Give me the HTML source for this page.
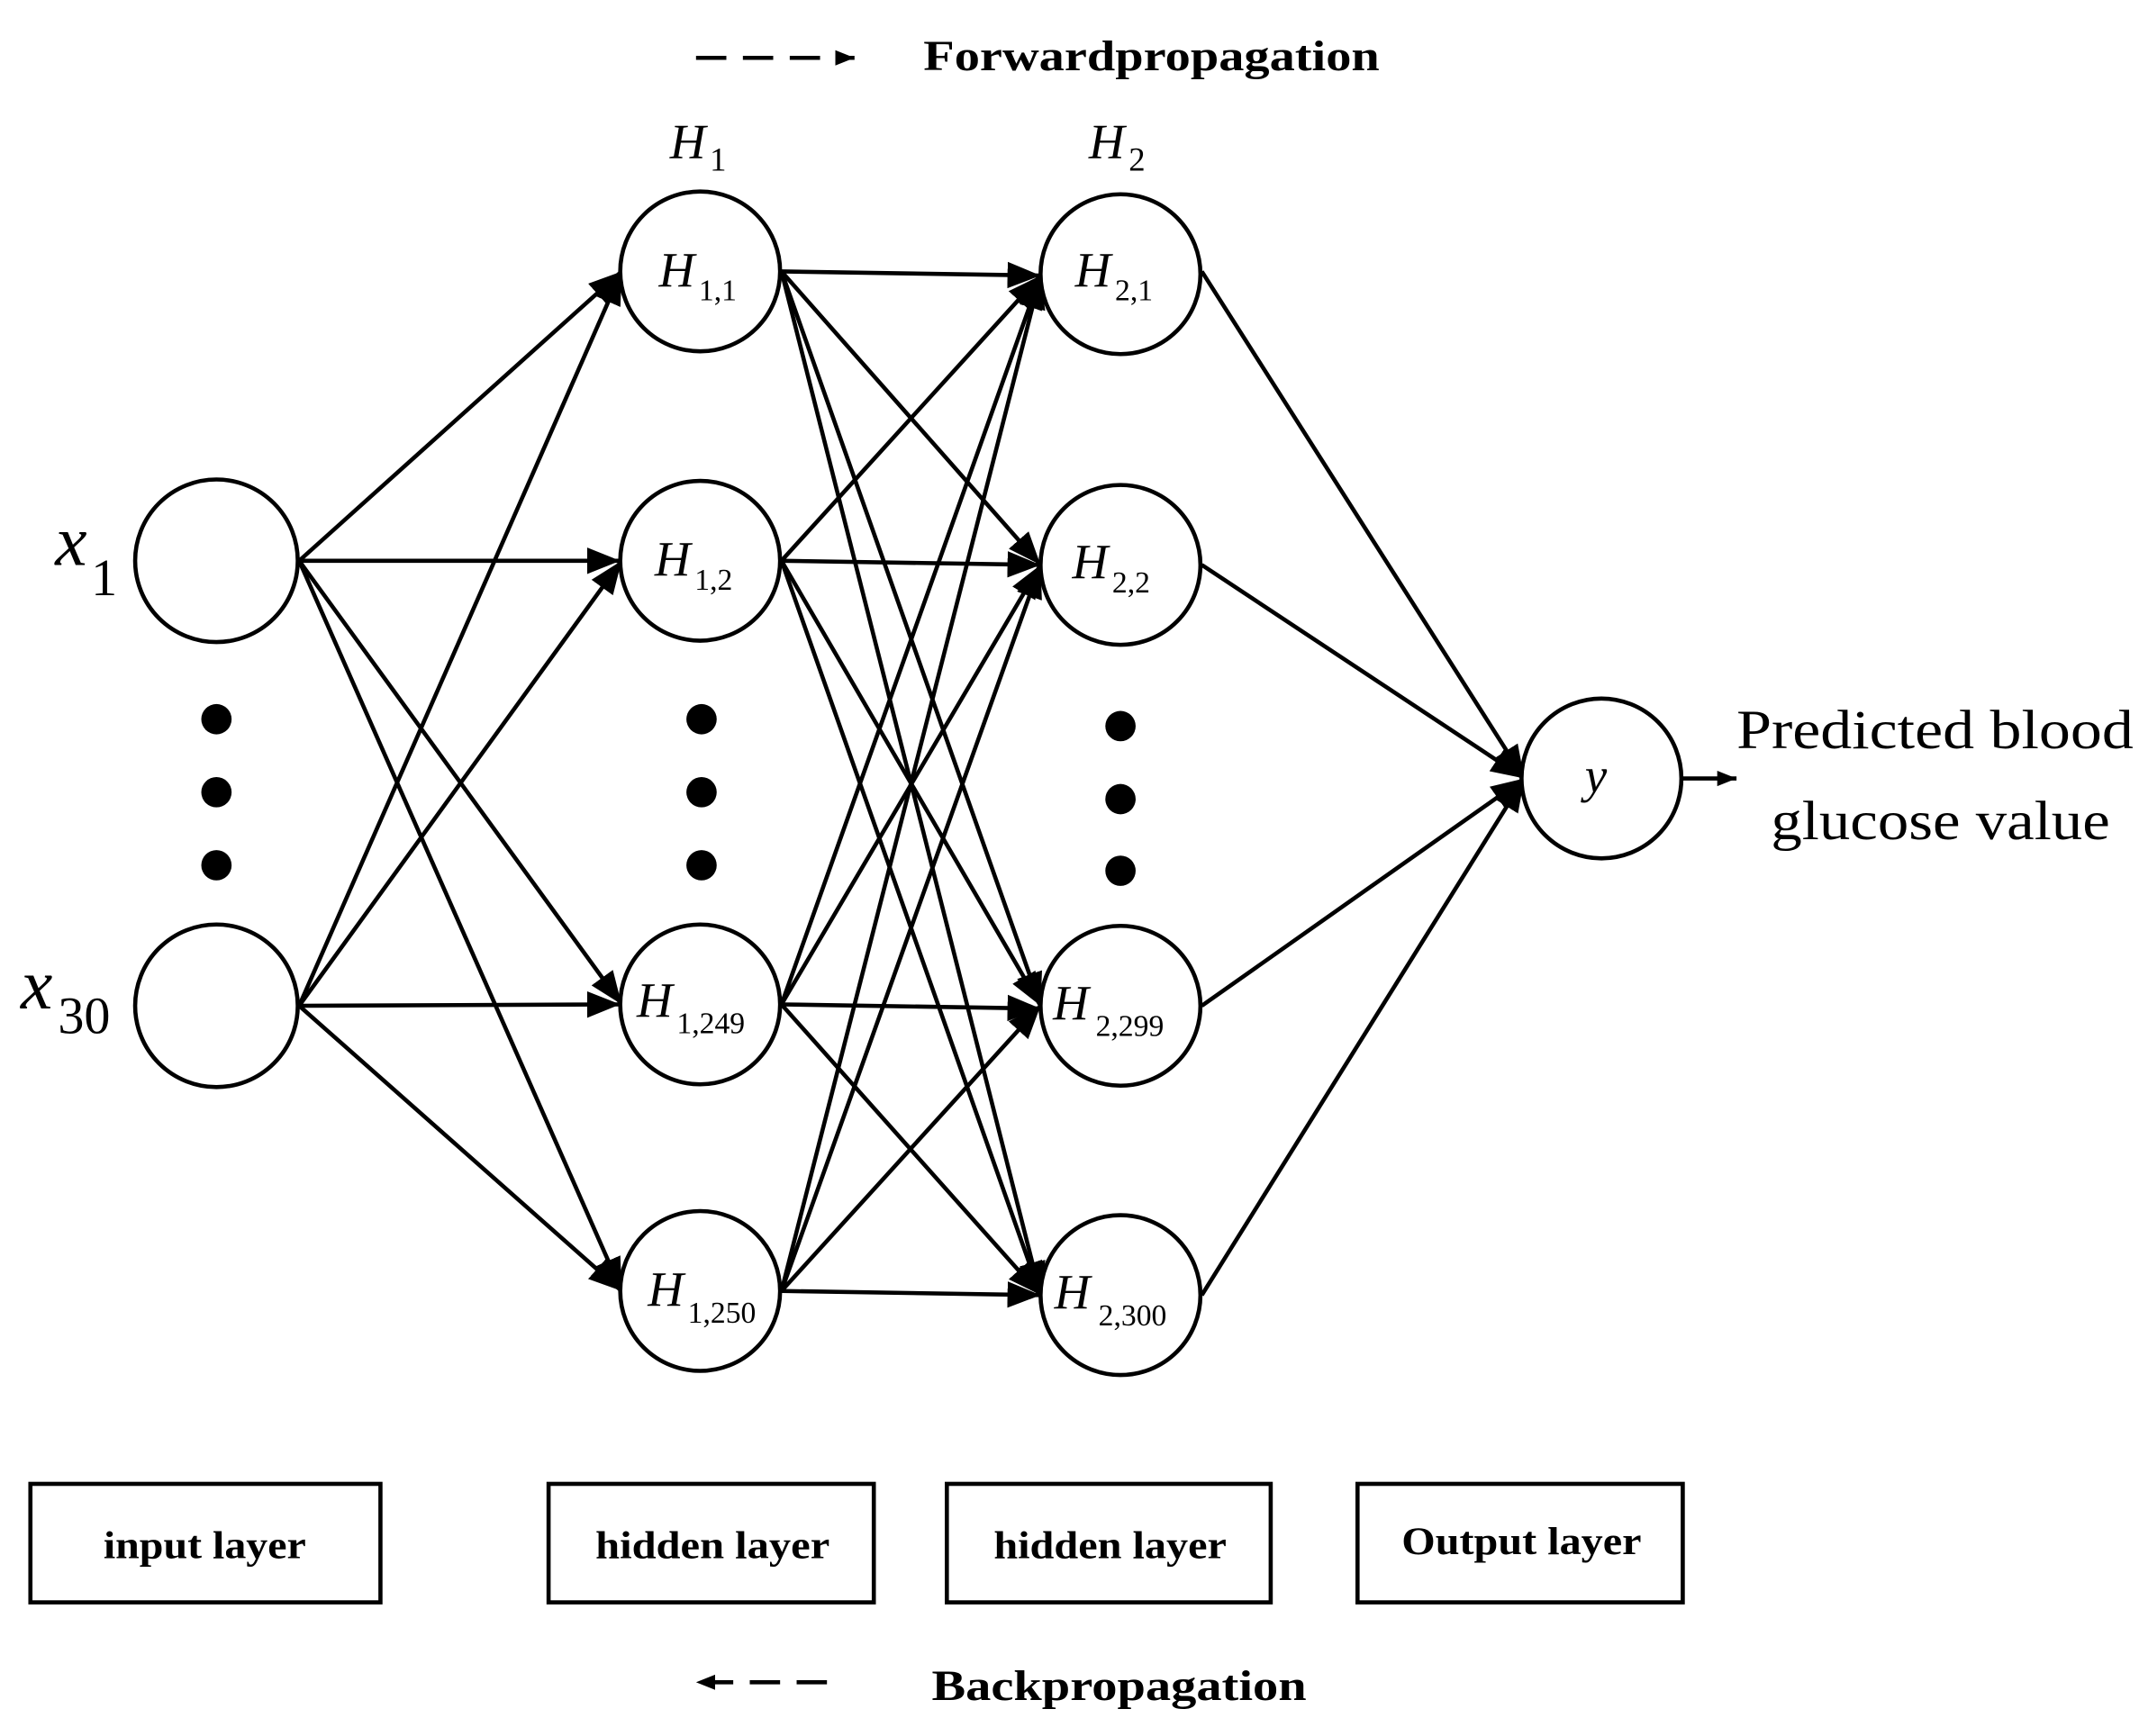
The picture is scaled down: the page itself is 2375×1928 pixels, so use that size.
<!DOCTYPE html>
<html><head><meta charset="utf-8"><style>
html,body{margin:0;padding:0;background:#fff;}
svg{display:block;}
text{font-family:"Liberation Serif",serif;fill:#000;}
</style></head><body>
<svg width="2375" height="1928" viewBox="0 0 1552 1260" xmlns="http://www.w3.org/2000/svg">
<defs>
<marker id="b" viewBox="0 0 10 10" refX="10" refY="5" markerWidth="24" markerHeight="24" markerUnits="userSpaceOnUse" orient="auto">
<path d="M0,1 L10,5 L0,9 z" fill="#000"/></marker>
<marker id="s" viewBox="0 0 10 10" refX="10" refY="5" markerWidth="14" markerHeight="14" markerUnits="userSpaceOnUse" orient="auto">
<path d="M0,1 L10,5 L0,9 z" fill="#000"/></marker>
</defs>
<g stroke="#000" stroke-width="3" fill="none" marker-end="url(#b)">
<line x1="217" y1="407" x2="451" y2="197"/>
<line x1="217" y1="407" x2="450" y2="407"/>
<line x1="217" y1="407" x2="451" y2="729"/>
<line x1="217" y1="407" x2="451" y2="937"/>
<line x1="217" y1="730" x2="451" y2="197"/>
<line x1="217" y1="730" x2="451" y2="407"/>
<line x1="217" y1="730" x2="450" y2="729"/>
<line x1="217" y1="730" x2="451" y2="937"/>
<line x1="567" y1="197" x2="755" y2="200"/>
<line x1="567" y1="197" x2="755" y2="410"/>
<line x1="567" y1="197" x2="755" y2="730"/>
<line x1="567" y1="197" x2="755" y2="940"/>
<line x1="567" y1="407" x2="755" y2="200"/>
<line x1="567" y1="407" x2="755" y2="410"/>
<line x1="567" y1="407" x2="755" y2="730"/>
<line x1="567" y1="407" x2="755" y2="940"/>
<line x1="567" y1="729" x2="755" y2="200"/>
<line x1="567" y1="729" x2="755" y2="410"/>
<line x1="567" y1="729" x2="755" y2="732"/>
<line x1="567" y1="729" x2="755" y2="940"/>
<line x1="567" y1="937" x2="755" y2="200"/>
<line x1="567" y1="937" x2="755" y2="410"/>
<line x1="567" y1="937" x2="755" y2="730"/>
<line x1="567" y1="937" x2="755" y2="940"/>
<line x1="872" y1="197" x2="1106" y2="565"/>
<line x1="872" y1="410" x2="1106" y2="565"/>
<line x1="872" y1="730" x2="1106" y2="565"/>
<line x1="872" y1="940" x2="1106" y2="565"/>
</g>
<line x1="1220" y1="565" x2="1260" y2="565" stroke="#000" stroke-width="3" marker-end="url(#s)"/>
<g stroke="#000" stroke-width="3" fill="#fff">
<circle cx="157" cy="407" r="59"/><circle cx="157" cy="730" r="59"/>
<circle cx="508" cy="197" r="58"/><circle cx="508" cy="407" r="58"/><circle cx="508" cy="729" r="58"/><circle cx="508" cy="937" r="58"/>
<circle cx="813" cy="199" r="58"/><circle cx="813" cy="410" r="58"/><circle cx="813" cy="730" r="58"/><circle cx="813" cy="940" r="58"/>
<circle cx="1162" cy="565" r="58"/>
</g>
<g fill="#000">
<circle cx="157" cy="522" r="11"/><circle cx="157" cy="575" r="11"/><circle cx="157" cy="628" r="11"/>
<circle cx="509" cy="522" r="11"/><circle cx="509" cy="575" r="11"/><circle cx="509" cy="628" r="11"/>
<circle cx="813" cy="527" r="11"/><circle cx="813" cy="580" r="11"/><circle cx="813" cy="632" r="11"/>
</g>
<text x="40" y="410" font-size="52" font-style="italic">x</text><text x="66" y="432" font-size="38">1</text>
<text x="15" y="732" font-size="52" font-style="italic">x</text><text x="42" y="750" font-size="38">30</text>
<text x="486" y="115" font-size="36" font-style="italic">H</text><text x="515" y="124" font-size="24">1</text>
<text x="790" y="115" font-size="36" font-style="italic">H</text><text x="819" y="124" font-size="24">2</text>
<g font-size="36" font-style="italic">
<text x="478" y="208">H</text><text x="475" y="418">H</text><text x="462" y="738">H</text><text x="470" y="948">H</text>
<text x="780" y="208">H</text><text x="778" y="420">H</text><text x="764" y="740">H</text><text x="765" y="950">H</text>
<text x="1150" y="575">y</text>
</g>
<g font-size="22">
<text x="507" y="218">1,1</text><text x="504" y="428">1,2</text><text x="491" y="750">1,249</text><text x="499" y="960">1,250</text>
<text x="809" y="218">2,1</text><text x="807" y="430">2,2</text><text x="795" y="752">2,299</text><text x="797" y="962">2,300</text>
</g>
<text x="1260" y="543" font-size="40" textLength="288" lengthAdjust="spacingAndGlyphs">Predicted blood</text>
<text x="1285" y="609" font-size="40" textLength="246" lengthAdjust="spacingAndGlyphs">glucose value</text>
<g stroke="#000" stroke-width="3" fill="none">
<rect x="22" y="1077" width="254" height="86"/>
<rect x="398" y="1077" width="236" height="86"/>
<rect x="687" y="1077" width="235" height="86"/>
<rect x="985" y="1077" width="236" height="86"/>
</g>
<g font-size="28" font-weight="bold">
<text x="75" y="1131" textLength="147" lengthAdjust="spacingAndGlyphs">input layer</text>
<text x="432" y="1131" textLength="170" lengthAdjust="spacingAndGlyphs">hidden layer</text>
<text x="721" y="1131" textLength="169" lengthAdjust="spacingAndGlyphs">hidden layer</text>
<text x="1017" y="1128" textLength="174" lengthAdjust="spacingAndGlyphs">Output layer</text>
</g>
<line x1="505" y1="42" x2="620" y2="42" stroke="#000" stroke-width="3" stroke-dasharray="22,12" marker-end="url(#s)"/>
<text x="670" y="51" font-size="31" font-weight="bold" textLength="331" lengthAdjust="spacingAndGlyphs">Forwardpropagation</text>
<line x1="600" y1="1221" x2="505" y2="1221" stroke="#000" stroke-width="3" stroke-dasharray="22,12" marker-end="url(#s)"/>
<text x="676" y="1234" font-size="31" font-weight="bold" textLength="272" lengthAdjust="spacingAndGlyphs">Backpropagation</text>
</svg>
</body></html>
